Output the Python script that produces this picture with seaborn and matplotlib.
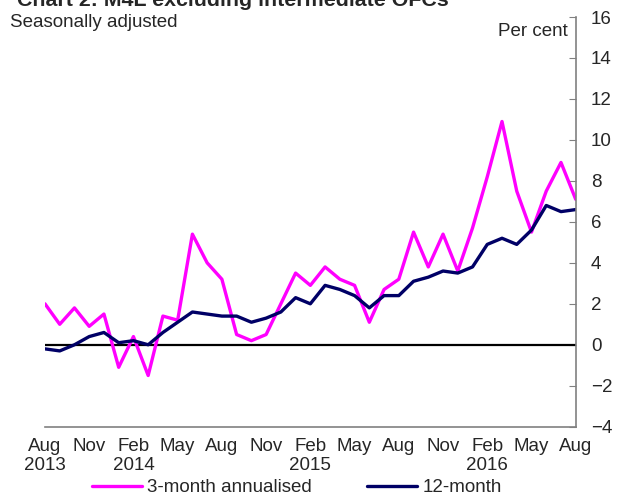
import pandas as pd
import numpy as np
import matplotlib
matplotlib.use("Agg")
import matplotlib.pyplot as plt
import seaborn as sns

sns.set_style("white")
plt.rcParams['font.family'] = ['Liberation Sans', 'DejaVu Sans']

# monthly, Aug 2013 .. Aug 2016
months = pd.date_range("2013-08-01", "2016-08-01", freq="MS")
three_month = [2.0, 1.0, 1.8, 0.9, 1.5, -1.1, 0.4, -1.5, 1.4, 1.2,
               5.4, 4.0, 3.2, 0.5, 0.2, 0.5, 2.0, 3.5, 2.9, 3.8,
               3.2, 2.9, 1.1, 2.7, 3.2, 5.5, 3.8, 5.4, 3.6, 5.7,
               8.2, 10.9, 7.5, 5.5, 7.5, 8.9, 7.1]
twelve_month = [-0.2, -0.3, 0.0, 0.4, 0.6, 0.1, 0.2, 0.0, 0.6, 1.1,
                1.6, 1.5, 1.4, 1.4, 1.1, 1.3, 1.6, 2.3, 2.0, 2.9,
                2.7, 2.4, 1.8, 2.4, 2.4, 3.1, 3.3, 3.6, 3.5, 3.8,
                4.9, 5.2, 4.9, 5.6, 6.8, 6.5, 6.6]
xtick_labels = ["Aug\n2013", "Nov", "Feb\n2014", "May", "Aug", "Nov", "Feb\n2015",
                "May", "Aug", "Nov", "Feb\n2016", "May", "Aug"]

df = pd.DataFrame({"idx": np.arange(len(months)),
                   "3-month annualised": three_month,
                   "12-month": twelve_month})
long = df.melt(id_vars="idx", var_name="series", value_name="pct")

fs = 13.5
fig = plt.figure(figsize=(6.22, 4.96), dpi=100)
ax = fig.add_axes([0.0723, 0.1397, 0.8533, 0.826])

sns.lineplot(data=long, x="idx", y="pct", hue="series", ax=ax,
             palette={"3-month annualised": "#FF00FF", "12-month": "#000066"},
             linewidth=2.4, legend=False)
ax.axhline(0, color="black", linewidth=1.6, zorder=1)

ax.set_xlim(0, len(months) - 1)
ax.set_ylim(-4, 16)
ax.set_xticks(np.arange(0, len(months), 3))
ax.set_xticklabels(xtick_labels, fontsize=fs)
ax.yaxis.tick_right()
ax.set_yticks(np.arange(-4, 17, 2))
ax.tick_params(axis="y", direction="in", length=5, labelsize=fs, color="#808080", pad=11)
ax.tick_params(axis="x", direction="out", length=5, color="#808080", pad=3)
ax.set_xlabel("")
ax.set_ylabel("")
for s in ["left", "top"]:
    ax.spines[s].set_visible(False)
for s in ["right", "bottom"]:
    ax.spines[s].set_color("#808080")
    ax.spines[s].set_linewidth(1.2)

# title is cropped at the top edge, as in the source image
fig.text(0.027, 1.0, "Chart 2: M4L excluding intermediate OFCs", fontsize=15.4,
         fontweight="bold", va="center", ha="left")
fig.text(0.016, 0.955, "Seasonally adjusted", fontsize=fs, va="center", ha="left")
fig.text(0.912, 0.937, "Per cent", fontsize=fs, va="center", ha="right")

handles = [plt.Line2D([], [], color="#FF00FF", lw=2.4),
           plt.Line2D([], [], color="#000066", lw=2.4)]
fig.legend(handles, ["3-month annualised", "12-month"], loc="center",
           bbox_to_anchor=(0.477, 0.017), ncol=2, frameon=False, fontsize=fs,
           handlelength=2.7, handletextpad=0.27, columnspacing=2.9, borderaxespad=0)

fig.savefig("out.png", dpi=100)
